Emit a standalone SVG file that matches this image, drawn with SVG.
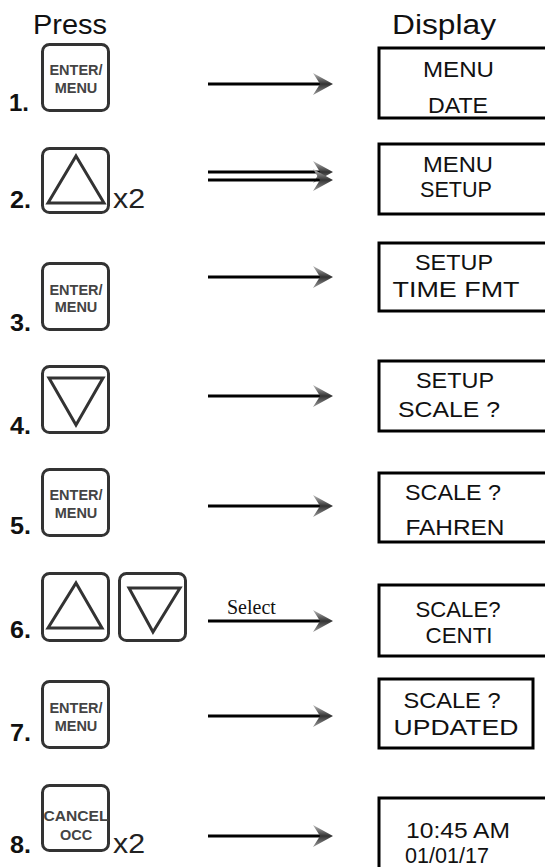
<svg xmlns="http://www.w3.org/2000/svg" width="545" height="867" viewBox="0 0 545 867">
<defs>
<style>
.hdr{font-family:"Liberation Sans",Arial,sans-serif;font-size:27px;fill:#111}
.num{font-family:"Liberation Sans",Arial,sans-serif;font-size:23px;font-weight:bold;fill:#111}
.x2{font-family:"Liberation Sans",Arial,sans-serif;font-size:28px;fill:#222}
.btn{fill:#fff;stroke:#333;stroke-width:3}
.key{font-family:"Liberation Sans",Arial,sans-serif;font-size:14.5px;font-weight:bold;fill:#444;text-anchor:middle}
.tri{fill:none;stroke:#333;stroke-width:3;stroke-linejoin:miter}
.disp{fill:none;stroke:#000;stroke-width:3}
.dt{font-family:"Liberation Sans",Arial,sans-serif;font-size:22px;fill:#111;text-anchor:middle}
.ln{stroke:#000;stroke-width:3;fill:none}
.sel{font-family:"Liberation Serif","Times New Roman",serif;font-size:20px;fill:#111}
</style>
<linearGradient id="ag" x1="0" y1="0" x2="0" y2="1">
<stop offset="0" stop-color="#bbb"/>
<stop offset="0.5" stop-color="#333"/>
<stop offset="1" stop-color="#999"/>
</linearGradient>
<marker id="ah" viewBox="0 0 20 24" refX="7" refY="12" markerWidth="20" markerHeight="24" markerUnits="userSpaceOnUse" orient="auto">
<path d="M0,1 L20,12 L0,23 L7,12 Z" fill="url(#ag)"/>
</marker>
</defs>

<text class="hdr" x="33" y="34" textLength="74" lengthAdjust="spacingAndGlyphs">Press</text>
<text class="hdr" x="392" y="34" textLength="104" lengthAdjust="spacingAndGlyphs">Display</text>

<g id="btn1">
<text class="num" x="9" y="111" textLength="20" lengthAdjust="spacingAndGlyphs">1.</text>
<rect class="btn" x="42.5" y="44.5" width="66" height="66" rx="7"/>
<text class="key" x="76" y="75">ENTER/</text>
<text class="key" x="76" y="93">MENU</text>
</g>
<g id="btn2">
<text class="num" x="10" y="208" textLength="21" lengthAdjust="spacingAndGlyphs">2.</text>
<rect class="btn" x="42.5" y="148.5" width="66" height="64" rx="7"/>
<path class="tri" d="M76,156 L104,203 L48,203 Z"/>
<text class="x2" x="113" y="208" textLength="32" lengthAdjust="spacingAndGlyphs">x2</text>
</g>
<g id="btn3">
<text class="num" x="10" y="331" textLength="21" lengthAdjust="spacingAndGlyphs">3.</text>
<rect class="btn" x="42.5" y="263.5" width="66" height="66" rx="7"/>
<text class="key" x="76" y="295">ENTER/</text>
<text class="key" x="76" y="312">MENU</text>
</g>
<g id="btn4">
<text class="num" x="10" y="434" textLength="21" lengthAdjust="spacingAndGlyphs">4.</text>
<rect class="btn" x="42.5" y="366.5" width="66" height="66" rx="7"/>
<path class="tri" d="M49,378 L103,378 L76,425 Z"/>
</g>
<g id="btn5">
<text class="num" x="10" y="534" textLength="21" lengthAdjust="spacingAndGlyphs">5.</text>
<rect class="btn" x="42.5" y="469.5" width="66" height="66" rx="7"/>
<text class="key" x="76" y="500">ENTER/</text>
<text class="key" x="76" y="518">MENU</text>
</g>
<g id="btn6">
<text class="num" x="10" y="638" textLength="21" lengthAdjust="spacingAndGlyphs">6.</text>
<rect class="btn" x="42.5" y="573.5" width="66" height="67" rx="7"/>
<path class="tri" d="M76,583 L102,628 L48,628 Z"/>
<rect class="btn" x="119.5" y="573.5" width="66" height="67" rx="7"/>
<path class="tri" d="M129,588 L180,588 L153,632 Z"/>
</g>
<g id="btn7">
<text class="num" x="10" y="741" textLength="21" lengthAdjust="spacingAndGlyphs">7.</text>
<rect class="btn" x="42.5" y="681.5" width="66" height="66" rx="7"/>
<text class="key" x="76" y="713">ENTER/</text>
<text class="key" x="76" y="731">MENU</text>
</g>
<g id="btn8">
<text class="num" x="10" y="853" textLength="21" lengthAdjust="spacingAndGlyphs">8.</text>
<rect class="btn" x="42.5" y="785.5" width="66" height="65" rx="7"/>
<text class="key" x="76" y="821" textLength="65" lengthAdjust="spacingAndGlyphs">CANCEL</text>
<text class="key" x="76" y="840">OCC</text>
<text class="x2" x="113" y="853" textLength="32" lengthAdjust="spacingAndGlyphs">x2</text>
</g>

<g id="connectors">
<line class="ln" x1="208" y1="84" x2="320" y2="84" marker-end="url(#ah)"/>
<line class="ln" x1="208" y1="172" x2="320" y2="172" marker-end="url(#ah)"/>
<line class="ln" x1="208" y1="180" x2="320" y2="180" marker-end="url(#ah)"/>
<line class="ln" x1="208" y1="277" x2="320" y2="277" marker-end="url(#ah)"/>
<line class="ln" x1="208" y1="396" x2="320" y2="396" marker-end="url(#ah)"/>
<line class="ln" x1="208" y1="506" x2="320" y2="506" marker-end="url(#ah)"/>
<line class="ln" x1="208" y1="621" x2="320" y2="621" marker-end="url(#ah)"/>
<text class="sel" x="227" y="614">Select</text>
<line class="ln" x1="208" y1="716" x2="320" y2="716" marker-end="url(#ah)"/>
<line class="ln" x1="208" y1="836" x2="320" y2="836" marker-end="url(#ah)"/>
</g>

<g id="disp1">
<rect class="disp" x="379" y="48" width="200" height="70"/>
<text class="dt" x="458.5" y="77" textLength="71" lengthAdjust="spacingAndGlyphs">MENU</text>
<text class="dt" x="458" y="113" textLength="60" lengthAdjust="spacingAndGlyphs">DATE</text>
</g>
<g id="disp2">
<rect class="disp" x="379" y="144" width="200" height="70"/>
<text class="dt" x="458" y="172" textLength="70" lengthAdjust="spacingAndGlyphs">MENU</text>
<text class="dt" x="456" y="197" textLength="72" lengthAdjust="spacingAndGlyphs">SETUP</text>
</g>
<g id="disp3">
<rect class="disp" x="379" y="243" width="200" height="68"/>
<text class="dt" x="454" y="270" textLength="78" lengthAdjust="spacingAndGlyphs">SETUP</text>
<text class="dt" x="456" y="297" textLength="127" lengthAdjust="spacingAndGlyphs">TIME FMT</text>
</g>
<g id="disp4">
<rect class="disp" x="379" y="361" width="200" height="70"/>
<text class="dt" x="455" y="388" textLength="78" lengthAdjust="spacingAndGlyphs">SETUP</text>
<text class="dt" x="449" y="417" textLength="102" lengthAdjust="spacingAndGlyphs">SCALE ?</text>
</g>
<g id="disp5">
<rect class="disp" x="379" y="473" width="200" height="69"/>
<text class="dt" x="453" y="500" textLength="96" lengthAdjust="spacingAndGlyphs">SCALE ?</text>
<text class="dt" x="455" y="535" textLength="99" lengthAdjust="spacingAndGlyphs">FAHREN</text>
</g>
<g id="disp6">
<rect class="disp" x="379" y="585" width="200" height="71"/>
<text class="dt" x="458" y="617" textLength="85" lengthAdjust="spacingAndGlyphs">SCALE?</text>
<text class="dt" x="459" y="643" textLength="67" lengthAdjust="spacingAndGlyphs">CENTI</text>
</g>
<g id="disp7">
<rect class="disp" x="379" y="679" width="154" height="69"/>
<text class="dt" x="452" y="708" textLength="97" lengthAdjust="spacingAndGlyphs">SCALE ?</text>
<text class="dt" x="456" y="735" textLength="125" lengthAdjust="spacingAndGlyphs">UPDATED</text>
</g>
<g id="disp8">
<rect class="disp" x="379" y="798" width="200" height="100"/>
<text class="dt" x="458" y="838" textLength="104" lengthAdjust="spacingAndGlyphs">10:45 AM</text>
<text class="dt" x="447" y="863" textLength="84" lengthAdjust="spacingAndGlyphs">01/01/17</text>
</g>
</svg>
